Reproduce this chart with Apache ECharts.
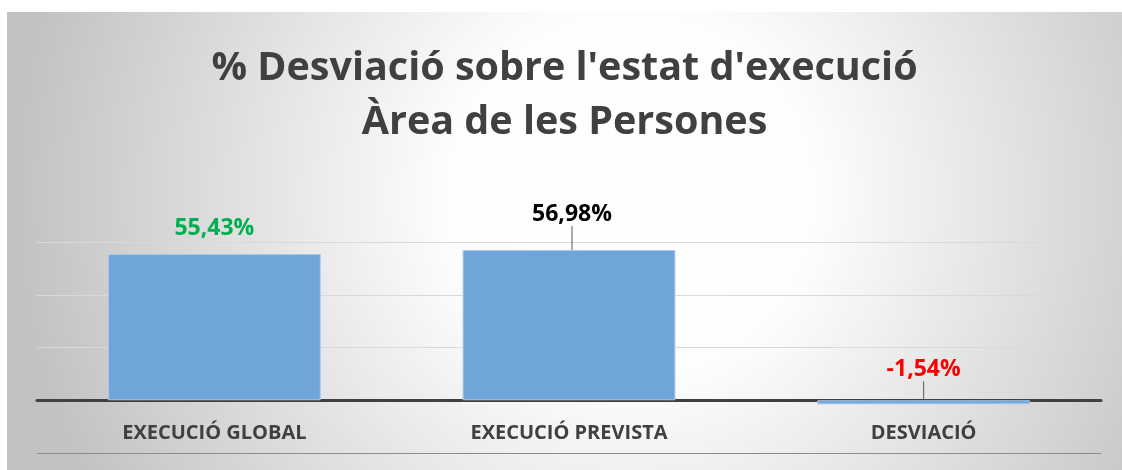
<!DOCTYPE html>
<html>
<head>
<meta charset="utf-8">
<script src="https://cdn.jsdelivr.net/npm/echarts@6/dist/echarts.min.js"></script>
<style>
  html, body { margin: 0; padding: 0; background: #fff; }
  #chart { position: absolute; left: 7px; top: 12px; width: 1115px; height: 458px; }
</style>
</head>
<body>
<div id="chart"></div>
<script>
const categories = ['EXECUCIÓ GLOBAL', 'EXECUCIÓ PREVISTA', 'DESVIACIÓ']
const values = [55.43, 56.98, -1.54]
const labelColors = ['#00b050', '#000000', '#ff0000']
const yTicks = [-20, 0, 20, 40, 60]

const fmt = (v) => v.toFixed(2).replace('.', ',') + '%'

const chart = echarts.init(document.getElementById('chart'))

const option = {
  backgroundColor: new echarts.graphic.RadialGradient(0.56, 0.4, 1.35, [
    { offset: 0, color: '#ffffff' },
    { offset: 0.3, color: '#fdfdfd' },
    { offset: 1, color: '#c2c2c2' },
  ]),
  title: {
    text: "% Desviació sobre l'estat d'execució\nÀrea de les Persones",
    left: 'center',
    top: 25,
    textStyle: {
      fontFamily: 'Open Sans',
      fontWeight: 'bold',
      fontSize: 39.5,
      lineHeight: 54,
      color: '#404040',
    },
  },
  grid: {
    left: 30,
    right: 21,
    top: 230,
    bottom: 17,
    containLabel: false,
    outerBoundsMode: 'none',
  },
  xAxis: {
    type: 'category',
    data: categories,
    axisTick: { show: false },
    axisLine: {
      onZero: true,
      lineStyle: { color: '#404040', width: 3 },
    },
    axisLabel: {
      margin: -30,
      fontFamily: 'Open Sans',
      fontWeight: 'bold',
      fontSize: 20,
      color: '#404040',
    },
  },
  yAxis: {
    type: 'value',
    min: yTicks[0],
    max: yTicks[yTicks.length - 1],
    interval: 20,
    axisLabel: { show: false },
    axisLine: { show: false },
    axisTick: { show: false },
    splitLine: {
      lineStyle: {
        color: ['#8c8c8c', '#d9d9d9', '#d9d9d9', '#d9d9d9', '#d9d9d9'],
        width: 1,
      },
    },
  },
  series: [
    {
      type: 'bar',
      barWidth: '60%',
      data: values.map((v, i) => ({
        value: v,
        label: {
          color: labelColors[i],
        },
        labelLine: { show: i > 0 },
      })),
      itemStyle: {
        color: '#6fa5d8',
        borderColor: '#a9c9ea',
        borderWidth: 1,
      },
      label: {
        show: true,
        position: 'top',
        distance: 4,
        fontFamily: 'Open Sans',
        fontWeight: 'bold',
        fontSize: 23,
        formatter: (p) => fmt(p.value),
      },
      labelLine: {
        lineStyle: { color: '#595959', width: 1 },
      },
      labelLayout: (params) => {
        if (params.dataIndex === 0) return { dy: -10 }
        if (params.dataIndex === 1) return { dy: -20, dx: 3 }
        return { dy: -15 }
      },
    },
  ],
}

chart.setOption(option)
</script>
</body>
</html>
